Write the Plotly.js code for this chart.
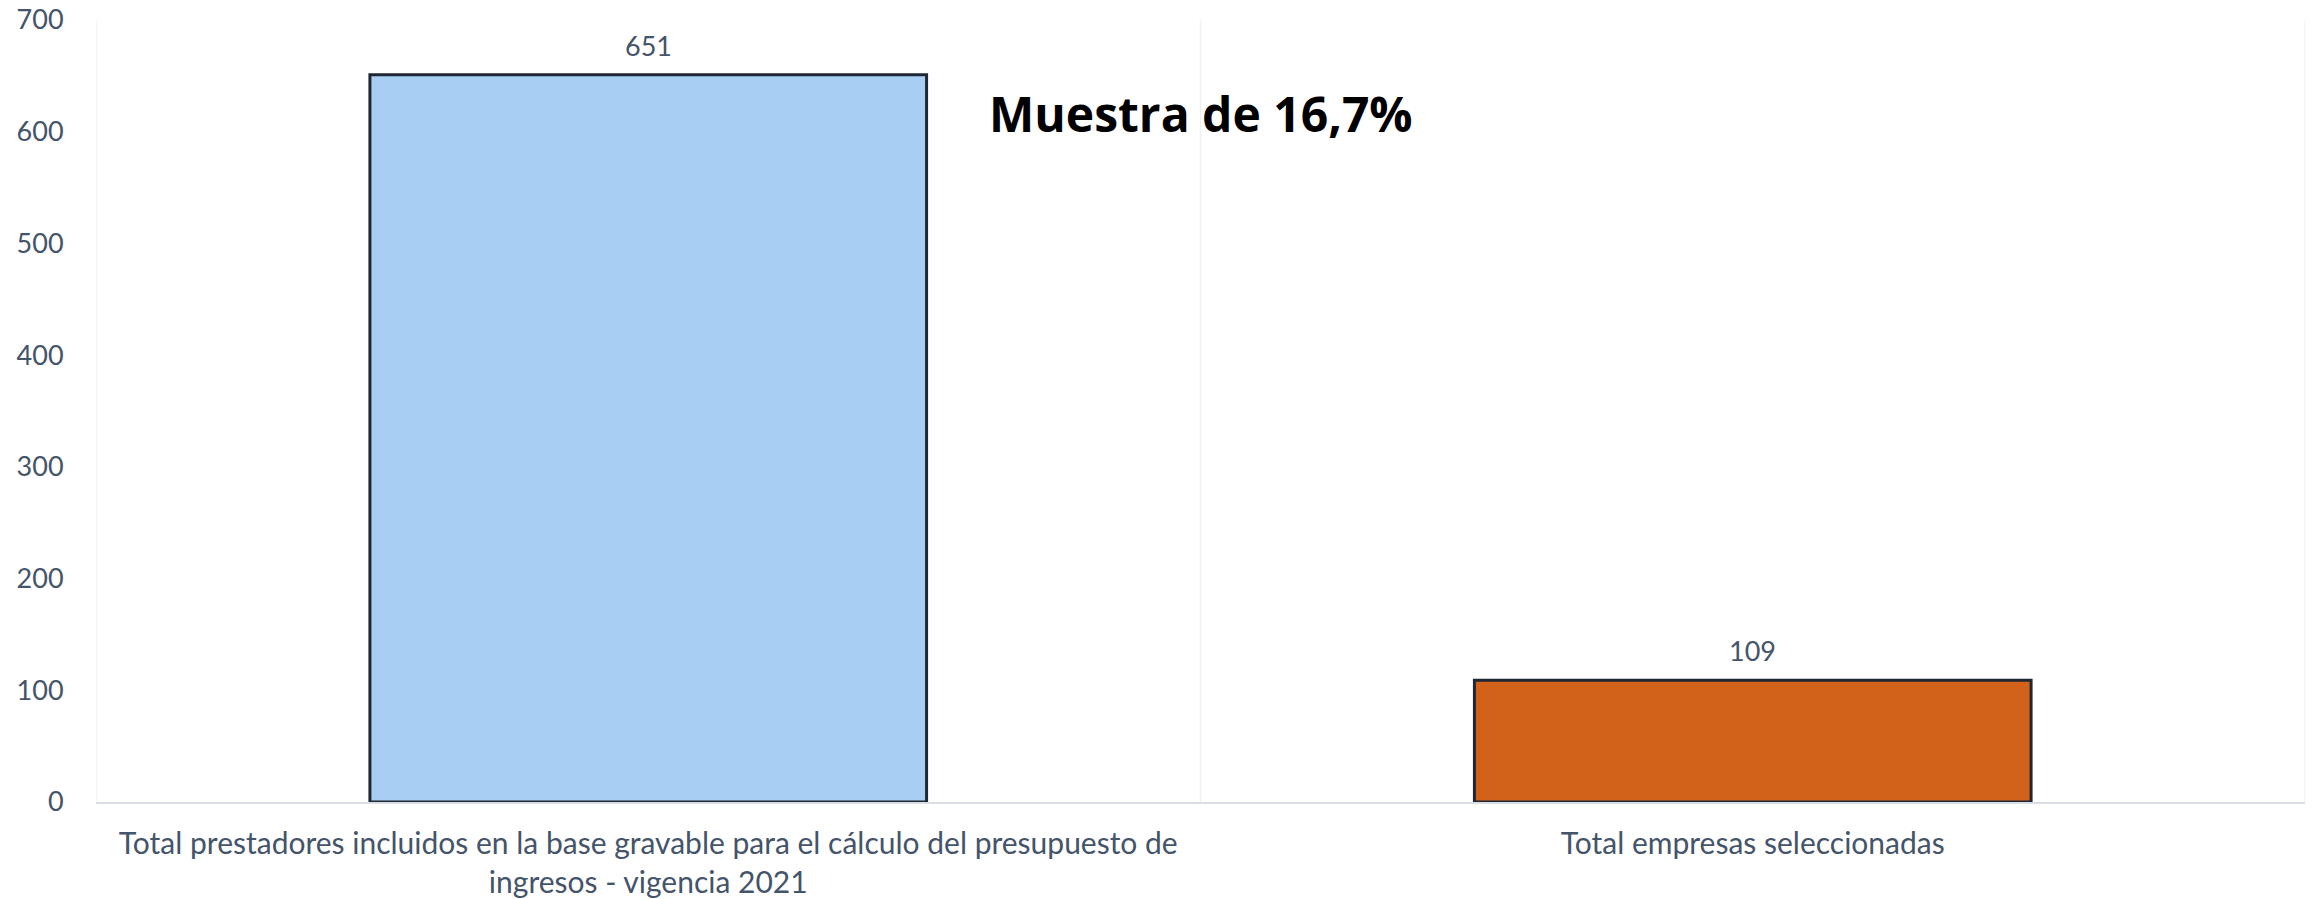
<!DOCTYPE html>
<html>
<head>
<meta charset="utf-8">
<script src="https://cdn.plot.ly/plotly-3.0.1.min.js"></script>
<style>html,body{margin:0;padding:0;background:#fff;}#chart{width:2324px;height:899px;}</style>
</head>
<body>
<div id="chart"></div>
<script>
const categories = [
  "Total prestadores incluidos en la base gravable para el cálculo del presupuesto de<br>ingresos - vigencia 2021",
  "Total empresas seleccionadas"
];
const values = [651, 109];
const valueLabels = ["651", "109"];
const barColors = ["#A9CEF3", "#D2621A"];
const annotationText = "Muestra de 16,7%";
const yTicks = [0, 100, 200, 300, 400, 500, 600, 700];

const textColor = "#44546A";
const font = "Lato, 'Open Sans', sans-serif";

const trace = {
  type: "bar",
  x: [0, 1],
  y: values,
  width: 0.504,
  marker: {
    color: barColors,
    line: { color: "#1E2733", width: 3 }
  },
  hoverinfo: "skip"
};

const annotations = values.map((v, i) => ({
  x: i, y: v, xref: "x", yref: "y",
  text: valueLabels[i], showarrow: false,
  yanchor: "bottom", yshift: 11,
  font: { family: font, size: 27, color: textColor }
}));
annotations.push({
  x: 0.5, y: 616, xref: "x", yref: "y",
  text: "<b>" + annotationText + "</b>", showarrow: false,
  xanchor: "center", yanchor: "middle",
  font: { family: "'Open Sans', sans-serif", size: 48, color: "#000000" }
});

const layout = {
  width: 2324, height: 899,
  margin: { l: 96, r: 19, t: 20, b: 97 },
  paper_bgcolor: "#ffffff", plot_bgcolor: "#ffffff",
  showlegend: false,
  bargap: 0,
  xaxis: {
    type: "linear",
    range: [-0.5, 1.5],
    tickvals: [0, 1],
    ticktext: categories,
    showgrid: false,
    zeroline: false,
    showline: true, linecolor: "#D9DDE4", linewidth: 2,
    ticks: "outside", ticklen: 14, tickcolor: "rgba(0,0,0,0)",
    tickfont: { family: font, size: 30, color: textColor },
    fixedrange: true
  },
  yaxis: {
    range: [0, 700],
    tickvals: yTicks,
    showgrid: false,
    zeroline: false,
    showline: false,
    ticks: "outside", ticklen: 26, tickcolor: "rgba(0,0,0,0)",
    tickfont: { family: font, size: 27, color: textColor },
    fixedrange: true
  },
  shapes: [-0.5, 0.5, 1.5].map(b => ({
    type: "line", xref: "x", yref: "paper", x0: b, x1: b, y0: 0, y1: 1,
    line: { color: "#F0F0F0", width: 1.5 }, layer: "below"
  })),
  annotations: annotations
};

Plotly.newPlot("chart", [trace], layout, { displayModeBar: false, staticPlot: true });
</script>
</body>
</html>
